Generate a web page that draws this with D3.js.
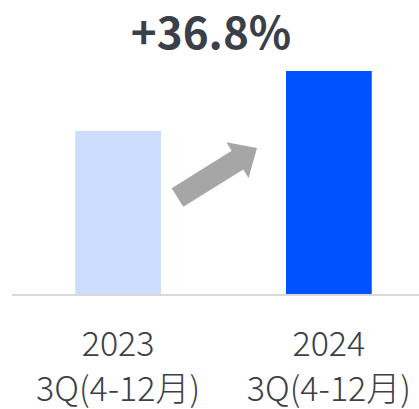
<!DOCTYPE html>
<html>
<head>
<meta charset="utf-8">
<script src="https://cdn.jsdelivr.net/npm/d3@7"></script>
<style>
  body { margin: 0; background: #fff; }
  text { font-family: "Noto Sans CJK JP", "Noto Sans", sans-serif; }
</style>
</head>
<body>
<svg id="canvas"></svg>
<script>
let years = ['2023', '2024']
let periods = ['3Q(4-12月)', '3Q(4-12月)']
let values = [100, 136.8]
let growth = '+36.8%'

let colors = ['#ccdcfc', '#0051ff']

let width = 419
let height = 409
let baseY = 294

let canvas = d3.select('#canvas')
canvas.attr('width', width).attr('height', height)

let xScale = d3.scaleBand()
  .domain(years)
  .range([12, 435])
  .paddingInner(0.593)
  .paddingOuter(0.3)

let yScale = d3.scaleLinear()
  .domain([0, 136.8])
  .range([baseY, 71])

// bars
canvas.selectAll('rect.bar')
  .data(values)
  .enter()
  .append('rect')
  .attr('class', 'bar')
  .attr('x', (d, i) => xScale(years[i]))
  .attr('width', xScale.bandwidth())
  .attr('y', d => yScale(d))
  .attr('height', d => yScale(0) - yScale(d))
  .attr('fill', (d, i) => colors[i])

// baseline
canvas.append('line')
  .attr('x1', 12).attr('x2', width)
  .attr('y1', yScale(0) + 1).attr('y2', yScale(0) + 1)
  .attr('stroke', '#d9d9d9')
  .attr('stroke-width', 2)

// growth label
canvas.append('text')
  .attr('x', 211)
  .attr('y', 49)
  .attr('text-anchor', 'middle')
  .attr('font-size', 44)
  .attr('font-weight', 'bold')
  .attr('fill', '#3b3f48')
  .text(growth)

// arrow between bars: tail centre -> tip, built along its own axis
let tail = [xScale(years[0]) + xScale.bandwidth() + 16.5, 197.5]
let tip = [xScale(years[1]) - 29, 148]
let len = Math.hypot(tip[0] - tail[0], tip[1] - tail[1])
let ux = (tip[0] - tail[0]) / len, uy = (tip[1] - tail[1]) / len
let nx = -uy, ny = ux
let shaft = 11, head = 21, headLen = 23
let pt = (a, b) => [tail[0] + ux * a + nx * b, tail[1] + uy * a + ny * b]
let arrow = d3.line()([
  pt(0, -shaft), pt(len - headLen, -shaft), pt(len - headLen, -head),
  pt(len, 0),
  pt(len - headLen, head), pt(len - headLen, shaft), pt(0, shaft)
])
canvas.append('path')
  .attr('d', arrow + 'Z')
  .attr('fill', '#a6a6a6')

// x labels
let labels = canvas.append('g')
labels.selectAll('text.year')
  .data(years)
  .enter()
  .append('text')
  .attr('class', 'year')
  .attr('x', d => xScale(d) + xScale.bandwidth() / 2)
  .attr('y', 356)
  .attr('text-anchor', 'middle')
  .attr('font-size', 34)
  .attr('font-weight', 300)
  .attr('fill', '#3b3f48')
  .text(d => d)

labels.selectAll('text.period')
  .data(periods)
  .enter()
  .append('text')
  .attr('class', 'period')
  .attr('x', (d, i) => xScale(years[i]) + xScale.bandwidth() / 2)
  .attr('y', 401)
  .attr('text-anchor', 'middle')
  .attr('font-size', 34)
  .attr('font-weight', 300)
  .attr('fill', '#3b3f48')
  .text(d => d)
</script>
</body>
</html>
